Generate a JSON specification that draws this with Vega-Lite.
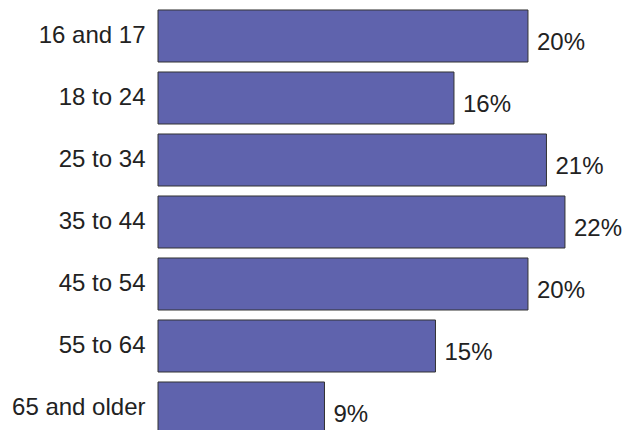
{
  "$schema": "https://vega.github.io/schema/vega-lite/v6.json",
  "autosize": {"type": "none"},
  "padding": {"left": 158, "top": 0, "right": 0, "bottom": 0},
  "width": 478,
  "height": 444,
  "background": "white",
  "config": {"view": {"stroke": null}, "font": "Liberation Sans"},
  "data": {"values": [
    {"age": "16 and 17", "share": 0.20},
    {"age": "18 to 24", "share": 0.16},
    {"age": "25 to 34", "share": 0.21},
    {"age": "35 to 44", "share": 0.22},
    {"age": "45 to 54", "share": 0.20},
    {"age": "55 to 64", "share": 0.15},
    {"age": "65 and older", "share": 0.09}
  ]},
  "encoding": {
    "y": {"field": "age", "type": "nominal", "sort": null,
      "scale": {"paddingInner": 0.161, "paddingOuter": 0.161},
      "axis": {"title": null, "domain": false, "ticks": false, "labelPadding": 13, "labelFontSize": 24, "labelColor": "#222222", "labelFont": "Liberation Sans"}},
    "x": {"field": "share", "type": "quantitative", "scale": {"domain": [0, 0.2584], "nice": false}, "axis": null}
  },
  "layer": [
    {"mark": {"type": "bar", "fill": "#5F63AD", "stroke": "#333333", "strokeWidth": 1}},
    {"mark": {"type": "text", "align": "left", "baseline": "middle", "dx": 9, "dy": 7, "fontSize": 24, "color": "#222222", "font": "Liberation Sans"},
     "encoding": {"text": {"field": "share", "type": "quantitative", "format": ".0%"}}}
  ]
}
